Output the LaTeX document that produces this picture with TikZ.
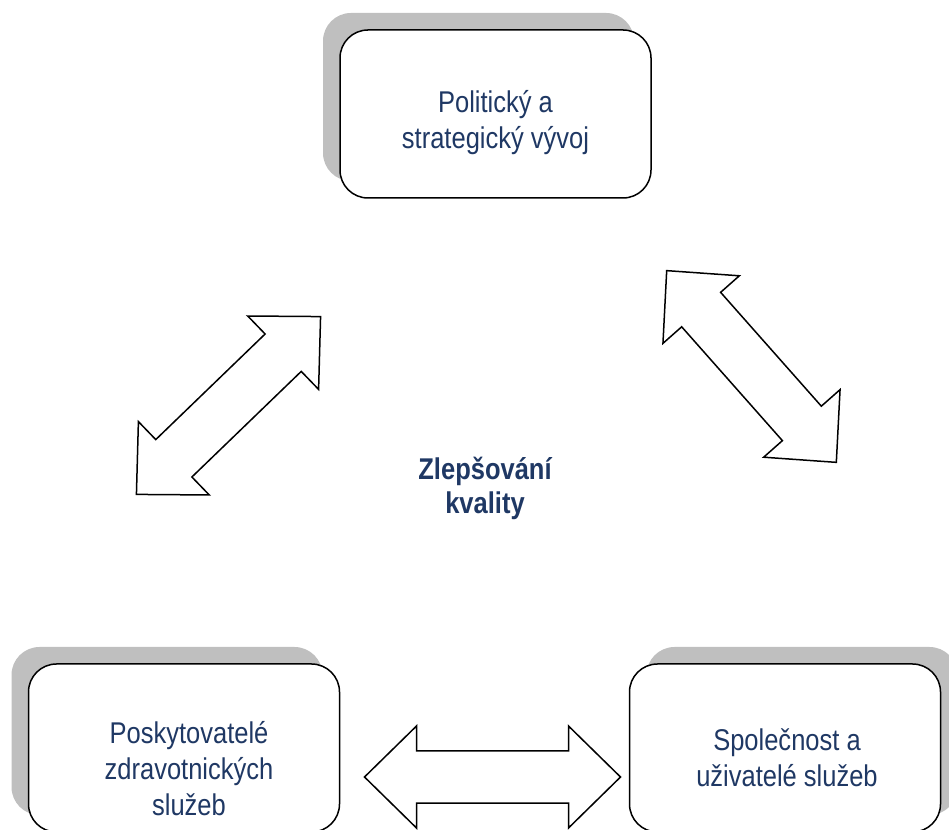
\documentclass[tikz,border=0pt]{standalone}
\usepackage{fontspec}
\setmainfont{Liberation Sans}[FakeStretch=0.85]
\usetikzlibrary{shadows}
\definecolor{navy}{HTML}{1F3864}
\tikzset{%
  % Specifications for style of nodes:
         box/.style = {rectangle, rounded corners=28pt, draw=black,
                       line width=1.5pt, fill=white,
                       minimum width=311pt, minimum height=168pt},
    shadowNW/.style = {box, general shadow={fill=black!25,
                       shadow xshift=-17pt, shadow yshift=17pt}},
    shadowNE/.style = {box, general shadow={fill=black!25,
                       shadow xshift=17pt, shadow yshift=17pt}},
     boxtext/.style = {align=center, text=navy,
                       font=\fontsize{30}{36}\selectfont},
  centertext/.style = {align=center, text=navy,
                       font=\fontsize{30}{34}\selectfont\bfseries},
   arrowline/.style = {draw=black, line width=1.5pt, fill=white},
  % double block arrow, tip to tip along x
    dblarrow/.pic = {
      \draw[arrowline] (-128,0) -- (-76,51) -- (-76,26) -- (76,26)
        -- (76,51) -- (128,0) -- (76,-51) -- (76,-26) -- (-76,-26)
        -- (-76,-51) -- cycle;
    },
}
\begin{document}
\begin{tikzpicture}[x=1pt, y=1pt]
  \useasboundingbox (0,0) rectangle (949,829);
  % boxes
  \node (pol)  [shadowNW] at (495.5,715) {};
  \node (posk) [shadowNW] at (184,81)    {};
  \node (spol) [shadowNE] at (785,81)    {};
  % texts
  \node (polT)  [boxtext] at ([yshift=-9pt]pol.center)
        {Politický a\\strategický vývoj};
  \node (poskT) [boxtext] at ([xshift=5pt,yshift=-21pt]posk.center)
        {Poskytovatelé\\zdravotnických\\služeb};
  \node (spolT) [boxtext] at ([xshift=2pt,yshift=-10pt]spol.center)
        {Společnost a\\uživatelé služeb};
  \node (qual)  [centertext] at (485,341) {Zlepšování\\kvality};
  % arrows
  \pic (arrL) [rotate=44]    at (228.5,423.5) {dblarrow};
  \pic (arrR) [rotate=-48.5] at (751.5,462.5) {dblarrow};
  \pic (arrB)                at (492.5,52)    {dblarrow};
\end{tikzpicture}
\end{document}
